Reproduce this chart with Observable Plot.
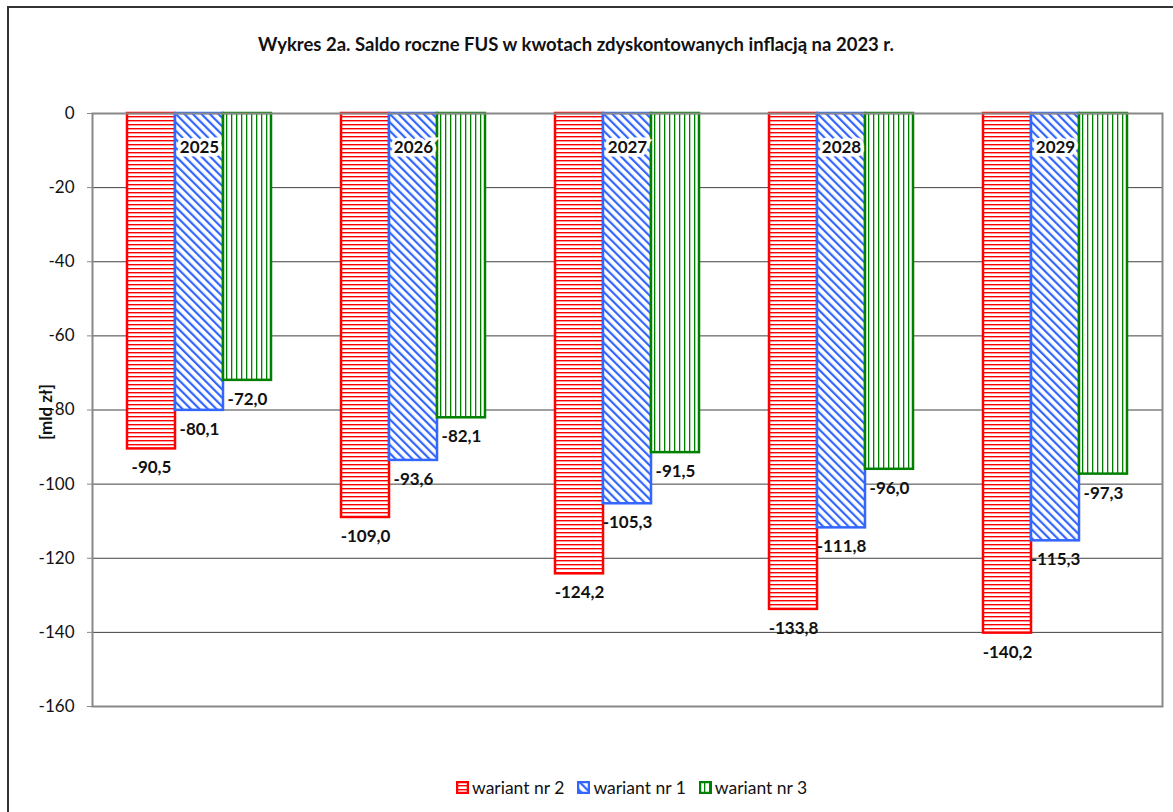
<!DOCTYPE html>
<html>
<head>
<meta charset="utf-8">
<script src="https://cdn.jsdelivr.net/npm/d3@7"></script>
<script src="https://cdn.jsdelivr.net/npm/@observablehq/plot@0.6"></script>
<style>
  html, body { margin: 0; padding: 0; background: #fff; }
  body { width: 1173px; height: 812px; position: relative; overflow: hidden; font-family: Lato, "Open Sans", sans-serif; }
  #frame { position: absolute; left: 7px; top: 6px; width: 1170px; height: 900px; border: 2px solid #333; box-sizing: border-box; }
  #title { position: absolute; top: 33px; left: 0; width: 1152px; text-align: center; font-weight: bold; font-size: 18.5px; color: #111; }
  #chart { position: absolute; left: 0; top: 0; }
  #ylabel { position: absolute; left: 45px; top: 412px; transform: translate(-50%, -50%) rotate(-90deg); font-weight: bold; font-size: 17px; white-space: nowrap; color: #111; }
  #legend { position: absolute; top: 777px; left: 456px; display: flex; gap: 13px; font-size: 17.5px; color: #111; }
  #legend .item { display: flex; align-items: center; gap: 3px; }
</style>
</head>
<body>
<div id="frame"></div>
<div id="title">Wykres 2a. Saldo roczne FUS w kwotach zdyskontowanych inflacją na 2023 r.</div>
<div id="chart"></div>
<div id="ylabel">[mld zł]</div>
<div id="legend"></div>
<script>
// ---- data ----
const years = ["2025", "2026", "2027", "2028", "2029"];
const seriesNames = ["wariant nr 2", "wariant nr 1", "wariant nr 3"];
const wariant2 = [-90.5, -109.0, -124.2, -133.8, -140.2];
const wariant1 = [-80.1, -93.6, -105.3, -111.8, -115.3];
const wariant3 = [-72.0, -82.1, -91.5, -96.0, -97.3];
const yTicks = [0, -20, -40, -60, -80, -100, -120, -140, -160];

const seriesValues = [wariant2, wariant1, wariant3];
const seriesStroke = ["#ff0000", "#3366ff", "#008000"];
const seriesFill = ["url(#pat-red)", "url(#pat-blue)", "url(#pat-green)"];

const rows = [];
years.forEach((yr, i) => seriesNames.forEach((s, j) => rows.push({year: yr, series: s, value: seriesValues[j][i]})));

const fmt = v => v.toFixed(1).replace(".", ",");

const barMarks = seriesNames.map((s, j) =>
  Plot.barY(rows.filter(d => d.series === s), {
    fx: "year", x: "series", y1: 0, y2: "value",
    fill: seriesFill[j], stroke: seriesStroke[j], strokeWidth: 2.5
  })
);

const plot = Plot.plot({
  width: 1173,
  height: 740,
  marginLeft: 91,
  marginRight: 10,
  marginTop: 113,
  marginBottom: 34,
  style: {fontFamily: "Lato, 'Open Sans', sans-serif", fontSize: "16px", color: "#111", background: "transparent"},
  fx: {domain: years, padding: 0, axis: null},
  x: {domain: seriesNames, paddingInner: 0, paddingOuter: 0.722, axis: null},
  y: {domain: [-160, 0], label: null},
  marks: [
    Plot.ruleY(yTicks, {stroke: "#404040", strokeWidth: 1}),
    Plot.axisY({
      ticks: yTicks, tickFormat: d => String(d), tickSize: 5, tickPadding: 13,
      fontSize: 17, stroke: "#888", fill: "#111", label: null
    }),
    ...barMarks,
    Plot.text(rows, {
      fx: "year", x: "series", y: "value", text: d => fmt(d.value),
      dy: 19, fontWeight: "bold", fontSize: 17, fill: "#111"
    }),
    Plot.text(years, {
      fx: d => d, text: d => d, frameAnchor: "top", dy: 27,
      fontWeight: "bold", fontSize: 17, fill: "#111",
      stroke: "white", strokeWidth: 7, paintOrder: "stroke", strokeLinejoin: "miter"
    }),
    Plot.frame({stroke: "#888", strokeWidth: 2, facet: "super"})
  ]
});

// patterns
const defs = d3.select(plot).insert("defs", ":first-child");
const red = defs.append("pattern").attr("id", "pat-red").attr("patternUnits", "userSpaceOnUse").attr("width", 8).attr("height", 4);
red.append("rect").attr("width", 8).attr("height", 4).attr("fill", "white");
red.append("rect").attr("y", 0).attr("width", 8).attr("height", 1.4).attr("fill", "#ff0000");
const blue = defs.append("pattern").attr("id", "pat-blue").attr("patternUnits", "userSpaceOnUse").attr("width", 6).attr("height", 8).attr("patternTransform", "rotate(-45)");
blue.append("rect").attr("width", 6).attr("height", 8).attr("fill", "white");
blue.append("rect").attr("x", 0).attr("width", 2.2).attr("height", 8).attr("fill", "#3366ff");
const green = defs.append("pattern").attr("id", "pat-green").attr("patternUnits", "userSpaceOnUse").attr("width", 5).attr("height", 8);
green.append("rect").attr("width", 5).attr("height", 8).attr("fill", "white");
green.append("rect").attr("x", 0).attr("width", 1.3).attr("height", 8).attr("fill", "#008000");

document.getElementById("chart").appendChild(plot);

// legend
const legend = d3.select("#legend");
seriesNames.forEach((s, j) => {
  const item = legend.append("div").attr("class", "item");
  const sw = item.append("svg").attr("width", 13).attr("height", 13);
  sw.append("rect").attr("x", 1).attr("y", 1).attr("width", 11).attr("height", 11)
    .attr("fill", seriesFill[j]).attr("stroke", seriesStroke[j]).attr("stroke-width", 2.5);
  item.append("span").text(s);
});
</script>
</body>
</html>
